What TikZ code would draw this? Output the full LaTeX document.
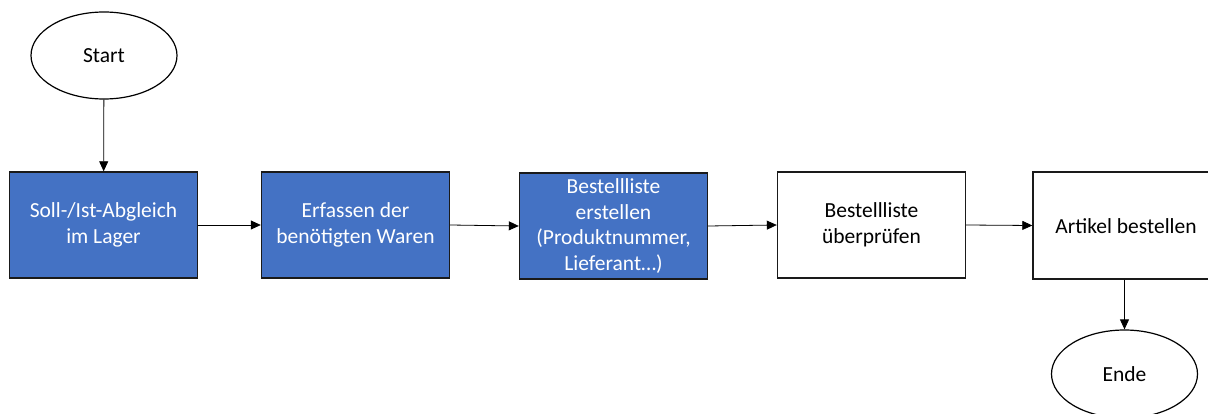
\documentclass[tikz,border=0pt]{standalone}
\usepackage{fontspec}
\setmainfont{Carlito}
\usetikzlibrary{shapes.geometric,arrows.meta}
\definecolor{stepblue}{HTML}{4472C4}
\definecolor{stepedge}{HTML}{1A1A1A}
\tikzset{
  x=1pt, y=-1pt,
  every node/.style={font=\fontsize{21.5}{25.5}\selectfont, align=center, inner sep=0pt},
  terminal/.style={ellipse, draw=black, line width=1.2pt, fill=white,
                   minimum width=146pt, minimum height=87pt},
  bluebox/.style={rectangle, draw=stepedge, line width=1.4pt, fill=stepblue,
                  text=white, minimum width=188pt, minimum height=106pt},
  whitebox/.style={rectangle, draw=stepedge, line width=1.4pt, fill=white,
                   text=black, minimum width=188pt, minimum height=106pt},
  flow/.style={draw=black, line width=0.8pt, -{Triangle[length=10pt,width=9pt]}}
}
\begin{document}
\begin{tikzpicture}
\useasboundingbox (0,0) rectangle (1208,414);
\clip (0,0) rectangle (1208,414);
\fill[white] (0,0) rectangle (1208,414);

\node[terminal] (start) at (104,55.5) {Start};
\node[bluebox] (s1) at (103.5,225) {Soll-/Ist-Abgleich\\im Lager};
\node[bluebox] (s2) at (355.5,225) {Erfassen der\\benötigten Waren};
\node[bluebox] (s3) at (613.5,226) {Bestellliste\\erstellen\\(Produktnummer,\\Lieferant…)};
\node[whitebox] (s4) at (871.5,225) {Bestellliste\\überprüfen};
% last step box runs past the right border
\node[whitebox, minimum width=190pt, minimum height=107pt] (s5) at (1128,225.5) {};
\node at (1126,226) {Artikel bestellen};
\node[terminal, minimum height=88pt] (ende) at (1124.5,374) {Ende};

\draw[flow] (start) -- (s1);
\draw[flow] (s1.east) -- (s2.west);
\draw[flow] (s2.east) -- (s3.west);
\draw[flow] (s3.east) -- (s4.west);
\draw[flow] (s4.east) -- (s5.west);
\draw[flow] (s5.south -| ende.north) -- (ende.north);
\end{tikzpicture}
\end{document}
